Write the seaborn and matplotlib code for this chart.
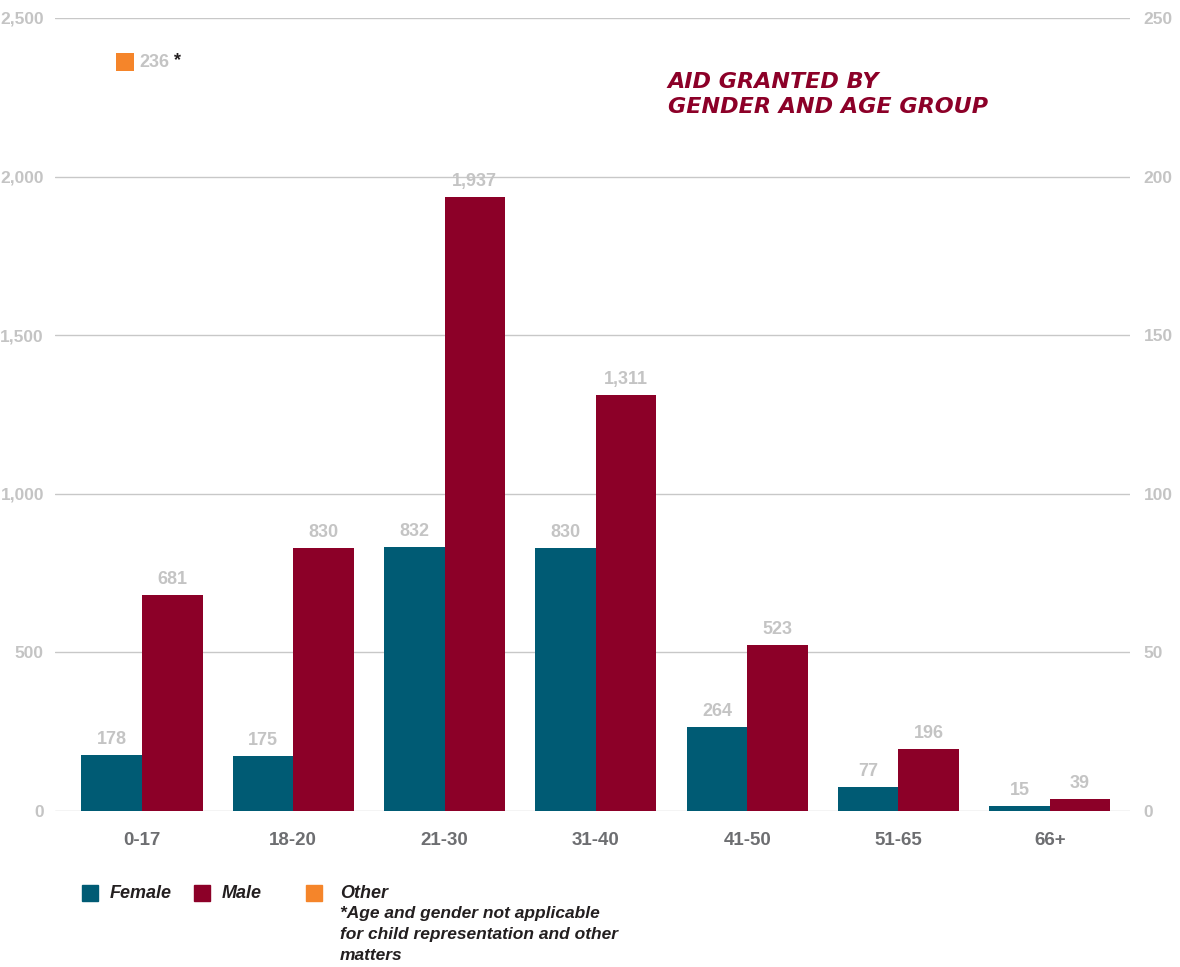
import matplotlib
matplotlib.use('Agg')
import matplotlib.pyplot as plt
from matplotlib.patches import Rectangle
import pandas as pd
import seaborn as sns

age_groups = ['0-17', '18-20', '21-30', '31-40', '41-50', '51-65', '66+']
female = [178, 175, 832, 830, 264, 77, 15]
male = [681, 830, 1937, 1311, 523, 196, 39]
other_value = 236
legend_labels = ['Female', 'Male', 'Other']
footnote = '*Age and gender not applicable\nfor child representation and other\nmatters'
title = 'AID GRANTED BY\nGENDER AND AGE GROUP'

teal = '#005b74'
crimson = '#8c0028'
orange = '#f5852a'
light_gray = '#c4c4c4'
dark_gray = '#6d6e71'
text_dark = '#231f20'

sns.set_style('white')
plt.rcParams['font.family'] = ['Liberation Sans', 'DejaVu Sans']
plt.rcParams['font.weight'] = 'bold'

df = pd.DataFrame({
    'age': age_groups * 2,
    'count': female + male,
    'gender': ['Female'] * len(age_groups) + ['Male'] * len(age_groups),
})

fig = plt.figure(figsize=(11.8, 9.67), dpi=100)
ax = fig.add_axes([0.0466, 0.1613, 0.911, 0.8201])

sns.barplot(data=df, x='age', y='count', hue='gender',
            palette=[teal, crimson], width=0.8, saturation=1,
            legend=False, linewidth=0, ax=ax)

for cont in ax.containers:
    ax.bar_label(cont, labels=[f'{int(v.get_height()):,}' for v in cont],
                 padding=5, color=light_gray, fontsize=13, fontweight='bold')

ax.set_xlim(-0.575, 6.53)
ax.set_ylim(0, 2500)
ax.set_yticks(range(0, 2501, 500))
ax.set_yticklabels([f'{v:,}' for v in range(0, 2501, 500)])
ax.yaxis.grid(True, color='#c8c8c8', linewidth=1)
ax.set_axisbelow(True)
ax.set_xlabel('')
ax.set_ylabel('')
ax.tick_params(axis='y', length=0, pad=8, labelsize=12.5, labelcolor=light_gray)
ax.tick_params(axis='x', length=0, pad=15, labelsize=13.5, labelcolor=dark_gray)
sns.despine(ax=ax, left=True, bottom=True)

ax2 = ax.twinx()
ax2.set_ylim(0, 250)
ax2.set_yticks(range(0, 251, 50))
ax2.tick_params(axis='y', length=0, pad=10, labelsize=12.5, labelcolor=light_gray)
sns.despine(ax=ax2, left=True, bottom=True, right=True)

# other (no age/gender) plotted against the right axis
ax2.scatter([-0.11], [other_value], marker='s', s=150, color=orange,
            linewidth=0, zorder=3)
ax2.annotate(f'{other_value}', (-0.11, other_value), xytext=(10, 0),
             textcoords='offset points', va='center', ha='left',
             color=light_gray, fontsize=13, fontweight='bold')
ax2.annotate('*', (-0.11, other_value), xytext=(35, 1),
             textcoords='offset points', va='center', ha='left',
             color=text_dark, fontsize=13, fontweight='bold')

fig.text(0.566, 0.926, title, color=crimson, fontsize=16, fontweight='bold',
         style='italic', family='DejaVu Sans', va='top', ha='left',
         linespacing=1.35)

# legend
for i, (lab, col) in enumerate(zip(legend_labels, [teal, crimson, orange])):
    x0 = 82 + i * 112
    fig.add_artist(Rectangle((x0 / 1180, 1 - 901 / 967), 16 / 1180, 16 / 967,
                             transform=fig.transFigure, color=col))
    tx = [110, 222, 340][i]
    fig.text(tx / 1180, 1 - 893 / 967, lab, color=text_dark, fontsize=13,
             fontweight='bold', style='italic', va='center', ha='left')

fig.text(340 / 1180, 1 - 906 / 967, footnote, color=text_dark, fontsize=12.5,
         fontweight='bold', style='italic', va='top', ha='left',
         linespacing=1.5)

fig.savefig('out.png', dpi=100)
